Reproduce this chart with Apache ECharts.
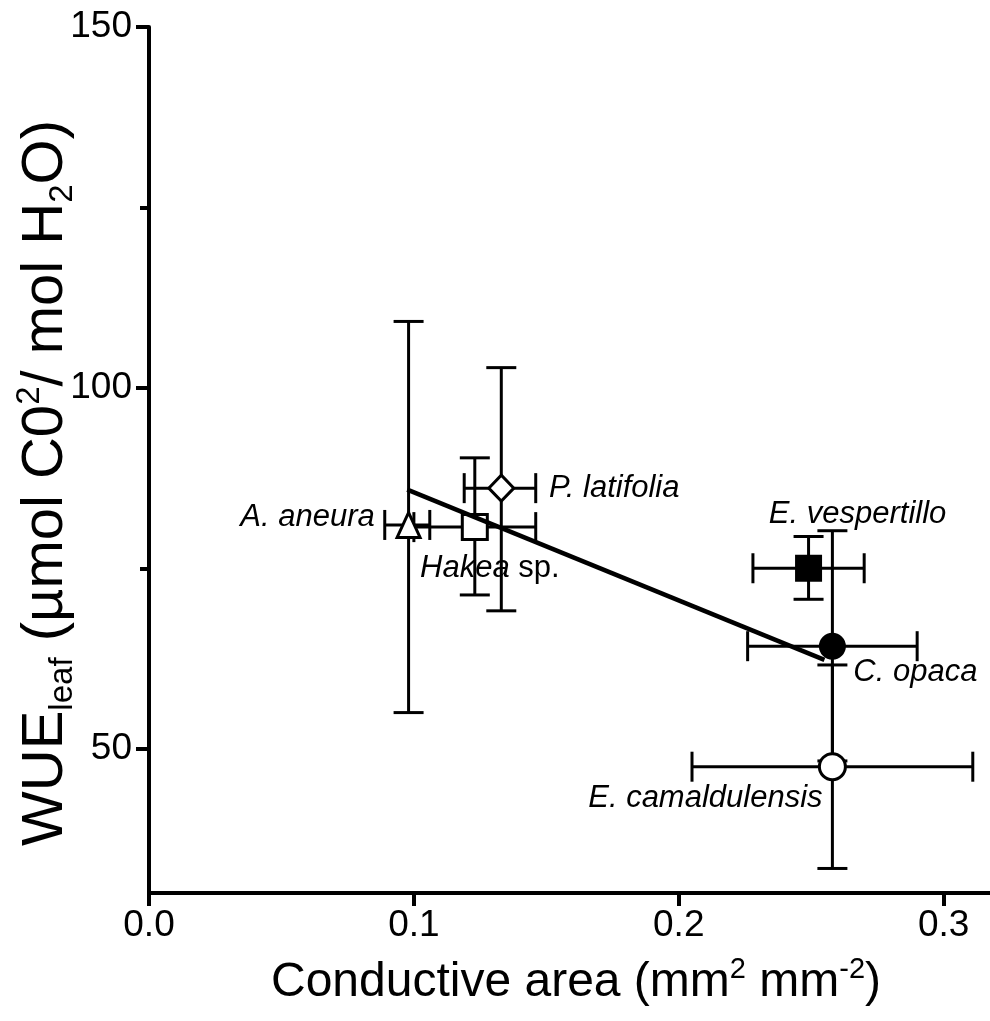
<!DOCTYPE html>
<html>
<head>
<meta charset="utf-8">
<script src="https://cdn.jsdelivr.net/npm/echarts@6/dist/echarts.min.js"></script>
<style>
  html, body { margin: 0; padding: 0; background: #fff; }
  #chart { width: 990px; height: 1021px; }
</style>
</head>
<body>
<div id="chart"></div>
<script>
// species, listed in the order they are drawn (later ones sit on top)
var species = ['E. camaldulensis', 'A. aneura', 'Hakea sp.', 'P. latifolia', 'E. vespertillo', 'C. opaca'];
// conductive area (mm2 mm-2) with error range
var area = [0.258, 0.098, 0.123, 0.133, 0.249, 0.258];
var areaLow = [0.205, 0.089, 0.100, 0.119, 0.228, 0.226];
var areaHigh = [0.311, 0.106, 0.146, 0.146, 0.270, 0.290];
// WUE leaf with error range
var wue = [47.5, 81.0, 80.7, 86.1, 75.0, 64.2];
var wueLow = [33.4, 55.0, 71.3, 69.1, 70.7, 48.3];
var wueHigh = [61.6, 109.2, 90.3, 102.8, 79.4, 80.2];
// regression line ends
var fitX = [0.0975, 0.255];
var fitY = [85.9, 62.3];
// axis ticks
var xTicks = [0, 0.1, 0.2, 0.3];
var yTicks = [50, 100, 150];
var yMinorTicks = [75, 125];

var FONT = '"Liberation Sans", Arial, Helvetica, sans-serif';

var markerStyle = {
  'E. camaldulensis': { symbol: 'circle', size: 26, open: true, offset: [-127, 32] },
  'A. aneura': { symbol: 'triangle', size: [23, 25], open: true, offset: [-101, -8] },
  'Hakea sp.': { symbol: 'rect', size: 25, open: true, offset: [15, 41] },
  'P. latifolia': { symbol: 'diamond', size: [25, 26], open: true, offset: [113, 0] },
  'E. vespertillo': { symbol: 'rect', size: 27, open: false, offset: [49, -54] },
  'C. opaca': { symbol: 'circle', size: 27, open: false, offset: [83, 26] }
};

function renderErrorBars(params, api) {
  var c = api.coord([api.value(0), api.value(1)]);
  var left = api.coord([api.value(2), api.value(1)])[0];
  var right = api.coord([api.value(3), api.value(1)])[0];
  var bottom = api.coord([api.value(0), api.value(4)])[1];
  var top = api.coord([api.value(0), api.value(5)])[1];
  var cap = 15;
  function seg(x1, y1, x2, y2) {
    return { type: 'line', shape: { x1: x1, y1: y1, x2: x2, y2: y2 }, style: { stroke: '#000', lineWidth: 3 } };
  }
  return {
    type: 'group',
    children: [
      seg(left, c[1], right, c[1]),
      seg(left, c[1] - cap, left, c[1] + cap),
      seg(right, c[1] - cap, right, c[1] + cap),
      seg(c[0], top, c[0], bottom),
      seg(c[0] - cap, top, c[0] + cap, top),
      seg(c[0] - cap, bottom, c[0] + cap, bottom)
    ]
  };
}

var chartDom = document.getElementById('chart');
var myChart = echarts.init(chartDom);
var series = [];

species.forEach(function (name, i) {
  var m = markerStyle[name];
  series.push({
    type: 'custom',
    renderItem: renderErrorBars,
    encode: { x: 0, y: 1 },
    data: [[area[i], wue[i], areaLow[i], areaHigh[i], wueLow[i], wueHigh[i]]],
    silent: true
  });
  series.push({
    type: 'scatter',
    name: name,
    symbol: m.symbol,
    symbolSize: m.size,
    data: [[area[i], wue[i]]],
    itemStyle: {
      color: m.open ? '#fff' : '#000',
      borderColor: '#000',
      borderWidth: m.open ? 3 : 0,
      opacity: 1
    },
    label: {
      show: true,
      position: 'inside',
      offset: m.offset,
      color: '#000',
      textBorderWidth: 0,
      fontSize: 31,
      fontFamily: FONT,
      formatter: function () {
        if (/ sp\.$/.test(name)) {
          return '{i|' + name.replace(/ sp\.$/, '') + '}{n| sp.}';
        }
        return '{i|' + name + '}';
      },
      rich: {
        i: { fontStyle: 'italic', fontSize: 31, fontFamily: FONT, color: '#000' },
        n: { fontSize: 31, fontFamily: FONT, color: '#000' }
      }
    },
    silent: true
  });
});

series.push({
  type: 'line',
  data: fitX.map(function (x, i) { return [x, fitY[i]]; }),
  symbol: 'none',
  lineStyle: { color: '#000', width: 4.5 },
  z: 5,
  silent: true
});

var option = {
  animation: false,
  backgroundColor: '#fff',
  grid: { left: 149, right: 0, top: 27, bottom: 128 },
  xAxis: {
    type: 'value',
    min: 0,
    max: 0.3175,
    name: 'Conductive area (mm{sup|2} mm{sup|-2})',
    nameLocation: 'middle',
    nameGap: 62,
    nameTextStyle: {
      fontSize: 48,
      fontFamily: FONT,
      color: '#000',
      lineHeight: 56,
      padding: [0, 0, 0, 13],
      rich: {
        sup: { fontSize: 29, fontFamily: FONT, color: '#000', verticalAlign: 'top', lineHeight: 43 }
      }
    },
    axisLine: { lineStyle: { color: '#000', width: 4 } },
    axisTick: { customValues: xTicks, length: 13, lineStyle: { color: '#000', width: 4 } },
    axisLabel: {
      customValues: xTicks,
      margin: 14,
      fontSize: 37,
      fontFamily: FONT,
      color: '#000',
      formatter: function (v) { return v.toFixed(1); }
    },
    splitLine: { show: false }
  },
  yAxis: [
    {
      type: 'value',
      position: 'left',
      min: 30,
      max: 150,
      axisLine: { show: true, lineStyle: { color: '#000', width: 4 } },
      axisTick: { show: true, customValues: yTicks, length: 13, lineStyle: { color: '#000', width: 4 } },
      axisLabel: { customValues: yTicks, margin: 17, fontSize: 37, fontFamily: FONT, color: '#000' },
      splitLine: { show: false }
    },
    {
      type: 'value',
      position: 'left',
      offset: 0,
      min: 30,
      max: 150,
      axisLine: { show: false },
      axisTick: { show: true, customValues: yMinorTicks, length: 9, lineStyle: { color: '#000', width: 4 } },
      axisLabel: { show: false },
      splitLine: { show: false }
    }
  ],
  graphic: [
    {
      type: 'text',
      x: 46,
      y: 483,
      rotation: Math.PI / 2,
      style: {
        text: 'WUE{sub|leaf} (\u00b5mol C0{sup|2}/ mol H{sub|2}O)',
        fontSize: 58,
        fontFamily: FONT,
        fill: '#000',
        align: 'center',
        verticalAlign: 'middle',
        lineHeight: 66,
        rich: {
          sub: { fontSize: 33, fontFamily: FONT, fill: '#000', verticalAlign: 'bottom', lineHeight: 19 },
          sup: { fontSize: 33, fontFamily: FONT, fill: '#000', verticalAlign: 'top', lineHeight: 24 }
        }
      }
    }
  ],
  series: series
};

option && myChart.setOption(option);
</script>
</body>
</html>
